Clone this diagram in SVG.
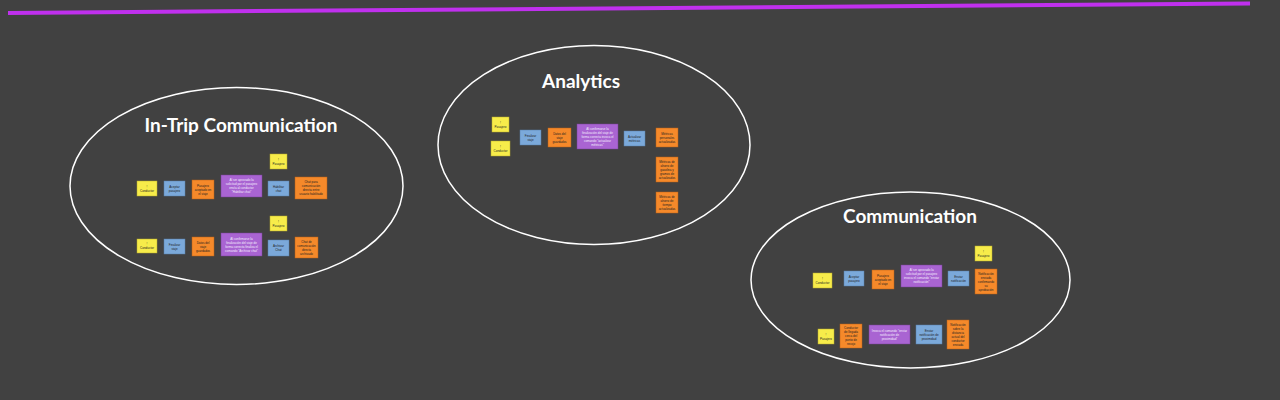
<svg xmlns="http://www.w3.org/2000/svg" width="1280" height="400" viewBox="0 0 1280 400">
<style>
.bg{fill:#414141}
.frame{fill:none;stroke:#ffffff;stroke-width:1.5}
.title{font-family:Lato,"Open Sans",sans-serif;font-weight:bold;font-size:19px;fill:#ffffff;text-anchor:middle}
.y{fill:#f7ec4a;stroke:#b8ad2c;stroke-width:0.5}
.b{fill:#7ba9da;stroke:#5a80aa;stroke-width:0.5}
.o{fill:#f5892a;stroke:#b8621a;stroke-width:0.5}
.p{fill:#a964d2;stroke:#7a4299;stroke-width:0.5}
.t{font-family:"Liberation Sans",Arial,sans-serif;font-size:3px;fill:#222222;text-anchor:middle}
.tw{font-family:"Liberation Sans",Arial,sans-serif;font-size:3px;fill:#f4ecff;text-anchor:middle}
</style>
<rect class="bg" x="0" y="0" width="1280" height="400"/>
<line x1="8" y1="13" x2="1250" y2="3.5" stroke="#c030ee" stroke-width="4"/>

<g id="frame-intrip">
<ellipse class="frame" cx="236.5" cy="186" rx="166.5" ry="98.5"/>
<text class="title" x="241" y="131.5">In-Trip Communication</text>
</g>
<g id="frame-analytics">
<ellipse class="frame" cx="594" cy="145" rx="156" ry="99.5"/>
<text class="title" x="581" y="87.5">Analytics</text>
</g>
<g id="frame-communication">
<ellipse class="frame" cx="910.5" cy="280" rx="159.5" ry="88"/>
<text class="title" x="910" y="222.5">Communication</text>
</g>

<g id="connectors"/>

<!-- In-Trip row 1 -->
<g id="it1"><rect class="y" x="137" y="181" width="20" height="15"/><text class="t" x="147"><tspan x="147" y="187.5">!</tspan><tspan x="147" y="191.5">Conductor</tspan></text></g>
<g id="it2"><rect class="b" x="164" y="181" width="21" height="15"/><text class="t"><tspan x="174.5" y="187.5">Aceptar</tspan><tspan x="174.5" y="191.5">pasajero</tspan></text></g>
<g id="it3"><rect class="o" x="192" y="180" width="22" height="19"/><text class="t"><tspan x="203" y="186.5">Pasajero</tspan><tspan x="203" y="190.5">aceptado en</tspan><tspan x="203" y="194.5">el viaje</tspan></text></g>
<g id="it4"><rect class="p" x="221" y="175" width="41" height="22"/><text class="tw"><tspan x="241.5" y="181">Al ser aprovado la</tspan><tspan x="241.5" y="185">solicitud por el pasajero</tspan><tspan x="241.5" y="189">envía al conductor</tspan><tspan x="241.5" y="193">"Habilitar chat"</tspan></text></g>
<g id="it5"><rect class="y" x="270" y="154" width="17" height="15"/><text class="t"><tspan x="278.5" y="160.5">!</tspan><tspan x="278.5" y="164.5">Pasajero</tspan></text></g>
<g id="it6"><rect class="b" x="268" y="181" width="21" height="15"/><text class="t"><tspan x="278.5" y="187.5">Habilitar</tspan><tspan x="278.5" y="191.5">chat</tspan></text></g>
<g id="it7"><rect class="o" x="295" y="177" width="32" height="22"/><text class="t"><tspan x="311" y="183">Chat para</tspan><tspan x="311" y="187">comunicación</tspan><tspan x="311" y="191">directa entre</tspan><tspan x="311" y="195">usuario habilitado</tspan></text></g>

<!-- In-Trip row 2 -->
<g id="it8"><rect class="y" x="137" y="239" width="20" height="14"/><text class="t"><tspan x="147" y="245">!</tspan><tspan x="147" y="249">Conductor</tspan></text></g>
<g id="it9"><rect class="b" x="164" y="239" width="21" height="15"/><text class="t"><tspan x="174.5" y="245.5">Finalizar</tspan><tspan x="174.5" y="249.5">viaje</tspan></text></g>
<g id="it10"><rect class="o" x="192" y="237" width="22" height="19"/><text class="t"><tspan x="203" y="243.5">Datos del</tspan><tspan x="203" y="247.5">viaje</tspan><tspan x="203" y="251.5">guardados</tspan></text></g>
<g id="it11"><rect class="p" x="221" y="233" width="41" height="23"/><text class="tw"><tspan x="241.5" y="239.5">Al confirmarse la</tspan><tspan x="241.5" y="243.5">finalización del viaje de</tspan><tspan x="241.5" y="247.5">forma correcta finaliza el</tspan><tspan x="241.5" y="251.5">comando "Archivar chat"</tspan></text></g>
<g id="it12"><rect class="y" x="270" y="216" width="17" height="15"/><text class="t"><tspan x="278.5" y="222.5">!</tspan><tspan x="278.5" y="226.5">Pasajero</tspan></text></g>
<g id="it13"><rect class="b" x="268" y="240" width="21" height="16"/><text class="t"><tspan x="278.5" y="247">Archivar</tspan><tspan x="278.5" y="251">Chat</tspan></text></g>
<g id="it14"><rect class="o" x="295" y="237" width="23" height="21"/><text class="t"><tspan x="306.5" y="242.5">Chat de</tspan><tspan x="306.5" y="246.5">comunicación</tspan><tspan x="306.5" y="250.5">directa</tspan><tspan x="306.5" y="254.5">archivado</tspan></text></g>

<!-- Analytics -->
<g id="an1"><rect class="y" x="492" y="117" width="17" height="15"/><text class="t"><tspan x="500.5" y="123.5">!</tspan><tspan x="500.5" y="127.5">Pasajero</tspan></text></g>
<g id="an2"><rect class="y" x="491" y="141" width="19" height="15"/><text class="t"><tspan x="500.5" y="147.5">!</tspan><tspan x="500.5" y="151.5">Conductor</tspan></text></g>
<g id="an3"><rect class="b" x="520" y="130" width="21" height="15"/><text class="t"><tspan x="530.5" y="136.5">Finalizar</tspan><tspan x="530.5" y="140.5">viaje</tspan></text></g>
<g id="an4"><rect class="o" x="548" y="128" width="23" height="19"/><text class="t"><tspan x="559.5" y="134.5">Datos del</tspan><tspan x="559.5" y="138.5">viaje</tspan><tspan x="559.5" y="142.5">guardados</tspan></text></g>
<g id="an5"><rect class="p" x="577" y="124" width="41" height="25"/><text class="tw"><tspan x="597.5" y="129.5">Al confirmarse la</tspan><tspan x="597.5" y="133.5">finalización del viaje de</tspan><tspan x="597.5" y="137.5">forma correcta invoca el</tspan><tspan x="597.5" y="141.5">comando "actualizar</tspan><tspan x="597.5" y="145.5">métricas"</tspan></text></g>
<g id="an6"><rect class="b" x="624" y="131" width="21" height="15"/><text class="t"><tspan x="634.5" y="137.5">Actualizar</tspan><tspan x="634.5" y="141.5">métricas</tspan></text></g>
<g id="an7"><rect class="o" x="656" y="128" width="22" height="19"/><text class="t"><tspan x="667" y="134.5">Métricas</tspan><tspan x="667" y="138.5">personales</tspan><tspan x="667" y="142.5">actualizadas</tspan></text></g>
<g id="an8"><rect class="o" x="656" y="157" width="22" height="25"/><text class="t"><tspan x="667" y="162.5">Métricas de</tspan><tspan x="667" y="166.5">ahorro de</tspan><tspan x="667" y="170.5">gasolina y</tspan><tspan x="667" y="174.5">gramos de</tspan><tspan x="667" y="178.5">actualizados</tspan></text></g>
<g id="an9"><rect class="o" x="656" y="192" width="22" height="21"/><text class="t"><tspan x="667" y="197.5">Métricas de</tspan><tspan x="667" y="201.5">ahorro de</tspan><tspan x="667" y="205.5">tiempo</tspan><tspan x="667" y="209.5">actualizadas</tspan></text></g>

<!-- Communication row 1 -->
<g id="cm1"><rect class="y" x="813" y="273" width="19" height="15"/><text class="t"><tspan x="822.5" y="279.5">!</tspan><tspan x="822.5" y="283.5">Conductor</tspan></text></g>
<g id="cm2"><rect class="b" x="844" y="271" width="20" height="15"/><text class="t"><tspan x="854" y="277.5">Aceptar</tspan><tspan x="854" y="281.5">pasajero</tspan></text></g>
<g id="cm3"><rect class="o" x="872" y="270" width="22" height="19"/><text class="t"><tspan x="883" y="276.5">Pasajero</tspan><tspan x="883" y="280.5">aceptado en</tspan><tspan x="883" y="284.5">el viaje</tspan></text></g>
<g id="cm4"><rect class="p" x="901" y="265" width="41" height="22"/><text class="tw"><tspan x="921.5" y="271">Al ser aprovado la</tspan><tspan x="921.5" y="275">solicitud por el pasajero</tspan><tspan x="921.5" y="279">invoca el comando "enviar</tspan><tspan x="921.5" y="283">notificación"</tspan></text></g>
<g id="cm5"><rect class="y" x="975" y="246" width="17" height="15"/><text class="t"><tspan x="983.5" y="252.5">!</tspan><tspan x="983.5" y="256.5">Pasajero</tspan></text></g>
<g id="cm6"><rect class="b" x="948" y="271" width="21" height="15"/><text class="t"><tspan x="958.5" y="277.5">Enviar</tspan><tspan x="958.5" y="281.5">notificación</tspan></text></g>
<g id="cm7"><rect class="o" x="975" y="269" width="22" height="25"/><text class="t"><tspan x="986" y="274.5">Notificación</tspan><tspan x="986" y="278.5">enviada</tspan><tspan x="986" y="282.5">confirmando</tspan><tspan x="986" y="286.5">su</tspan><tspan x="986" y="290.5">aprobación</tspan></text></g>

<!-- Communication row 2 -->
<g id="cm8"><rect class="y" x="818" y="329" width="16" height="15"/><text class="t"><tspan x="826" y="335.5">!</tspan><tspan x="826" y="339.5">Pasajero</tspan></text></g>
<g id="cm9"><rect class="o" x="840" y="324" width="22" height="24"/><text class="t"><tspan x="851" y="329">Conductor</tspan><tspan x="851" y="333">de llegada</tspan><tspan x="851" y="337">cerca del</tspan><tspan x="851" y="341">punto de</tspan><tspan x="851" y="345">recojo</tspan></text></g>
<g id="cm10"><rect class="p" x="869" y="325" width="41" height="19"/><text class="tw"><tspan x="889.5" y="331.5">Invoca el comando "enviar</tspan><tspan x="889.5" y="335.5">notificación de</tspan><tspan x="889.5" y="339.5">proximidad"</tspan></text></g>
<g id="cm11"><rect class="b" x="916" y="325" width="26" height="19"/><text class="t"><tspan x="929" y="331.5">Enviar</tspan><tspan x="929" y="335.5">notificación de</tspan><tspan x="929" y="339.5">proximidad</tspan></text></g>
<g id="cm12"><rect class="o" x="947" y="320" width="22" height="29"/><text class="t"><tspan x="958" y="325.5">Notificación</tspan><tspan x="958" y="329.5">sobre la</tspan><tspan x="958" y="333.5">distancia</tspan><tspan x="958" y="337.5">actual del</tspan><tspan x="958" y="341.5">conductor</tspan><tspan x="958" y="345.5">enviada</tspan></text></g>
</svg>
